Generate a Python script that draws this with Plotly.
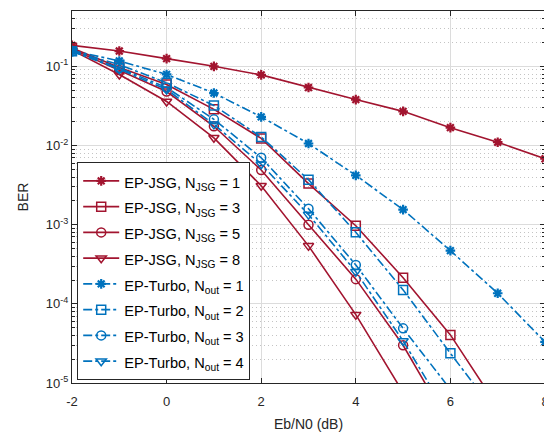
import plotly.graph_objects as go

ebn0 = [-2, -1, 0, 1, 2, 3, 4, 5, 6, 7, 8]

jsg1 = [0.184, 0.156, 0.125, 0.100, 0.078, 0.054, 0.038, 0.027, 0.0168, 0.011, 0.0068]
jsg3 = [0.170, 0.097, 0.059, 0.0286, 0.0123, 0.0033, 0.00097, 0.000214, 4.05e-5, 5.0e-6]
jsg5 = [0.165, 0.090, 0.048, 0.0175, 0.0049, 0.0010, 0.000205, 3.0e-5, 2.8e-6]
jsg8 = [0.160, 0.079, 0.036, 0.0125, 0.0031, 0.00054, 7.3e-5, 7.6e-6]
turbo1 = [0.158, 0.117, 0.079, 0.046, 0.023, 0.0106, 0.0042, 0.00155, 0.00047, 0.000136, 3.3e-5]
turbo2 = [0.155, 0.105, 0.062, 0.032, 0.0128, 0.0037, 0.0008, 0.00015, 2.37e-5, 3.9e-6]
turbo3 = [0.155, 0.095, 0.054, 0.0214, 0.0070, 0.00159, 0.00031, 4.9e-5, 8.3e-6]
turbo4 = [0.155, 0.092, 0.051, 0.0185, 0.0058, 0.00134, 0.000255, 3.4e-5, 3.5e-6]

names = [
    "EP-JSG, N<sub>JSG</sub> = 1",
    "EP-JSG, N<sub>JSG</sub> = 3",
    "EP-JSG, N<sub>JSG</sub> = 5",
    "EP-JSG, N<sub>JSG</sub> = 8",
    "EP-Turbo, N<sub>out</sub> = 1",
    "EP-Turbo, N<sub>out</sub> = 2",
    "EP-Turbo, N<sub>out</sub> = 3",
    "EP-Turbo, N<sub>out</sub> = 4",
]
series = [jsg1, jsg3, jsg5, jsg8, turbo1, turbo2, turbo3, turbo4]

x_ticks = [-2, 0, 2, 4, 6, 8]
x_ticktext = ["-2", "0", "2", "4", "6", "8"]
y_ticks = [1e-5, 1e-4, 1e-3, 1e-2, 1e-1]
y_ticktext = ["10<sup>-5</sup>", "10<sup>-4</sup>", "10<sup>-3</sup>", "10<sup>-2</sup>", "10<sup>-1</sup>"]
y_minor_digits = [2, 3, 4, 5, 6, 7, 8, 9]
y_minor_ticks = [d * t for t in y_ticks for d in y_minor_digits]

RED = "#A2142F"
BLUE = "#0072BD"
symbols = ["asterisk-open", "square-open", "circle-open", "triangle-down-open"] * 2

fig = go.Figure()
for i, (nm, ys) in enumerate(zip(names, series)):
    red = i < 4
    col = RED if red else BLUE
    sym = symbols[i]
    fig.add_trace(go.Scatter(
        x=ebn0[:len(ys)], y=ys,
        name='<span style="font-size:14.6px">' + nm + '</span>',
        mode="lines+markers",
        line=dict(color=col, width=1.6, dash="solid" if red else "dashdot"),
        marker=dict(symbol=sym, size=9 if sym != "asterisk-open" else 8, color=col,
                    line=dict(color=col, width=2.2 if sym == "asterisk-open" else 1.5)),
    ))

font = "Liberation Sans, Arial, Helvetica, sans-serif"
axcol = "#262626"
gridcol = "#dcdcdc"

# the page body adds an 8px offset, so the figure is 8px smaller on each side
fig.update_layout(
    width=544, height=424,
    margin=dict(l=64, r=7, t=3, b=49),
    paper_bgcolor="white", plot_bgcolor="white",
    font=dict(family=font, size=13, color=axcol),
    showlegend=True,
    legend=dict(x=0.011, y=0.008, xanchor="left", yanchor="bottom",
                bgcolor="white", bordercolor=axcol, borderwidth=1,
                font=dict(family=font, size=17.5, color="#000000"),
                tracegroupgap=0, itemwidth=36),
)
fig.update_xaxes(
    range=[-2, 8], tickvals=x_ticks, ticktext=x_ticktext, automargin=False,
    ticklabeloverflow="allow", ticklabelstandoff=6,
    showline=True, linecolor=axcol, linewidth=1, mirror="ticks",
    ticks="inside", ticklen=5, tickcolor=axcol,
    showgrid=True, gridcolor=gridcol, gridwidth=1, zeroline=False,
    title=dict(text="Eb/N0 (dB)", font=dict(size=14, color=axcol), standoff=14),
    tickfont=dict(size=13, color=axcol),
)
fig.update_yaxes(
    type="log", range=[-5, -0.30103], tickvals=y_ticks, ticktext=y_ticktext,
    automargin=False, ticklabeloverflow="allow",
    showline=True, linecolor=axcol, linewidth=1, mirror="ticks",
    ticks="inside", ticklen=5, tickcolor=axcol,
    showgrid=True, gridcolor=gridcol, gridwidth=1, zeroline=False,
    minor=dict(tickmode="array", tickvals=y_minor_ticks, ticks="inside", ticklen=3,
               tickcolor=axcol, showgrid=True,
               gridcolor="#c4c4c4", griddash="1px,3px", gridwidth=1),
    title=dict(text="BER", font=dict(size=14, color=axcol), standoff=13),
    tickfont=dict(size=13, color=axcol),
)

fig.write_html("out.html")
